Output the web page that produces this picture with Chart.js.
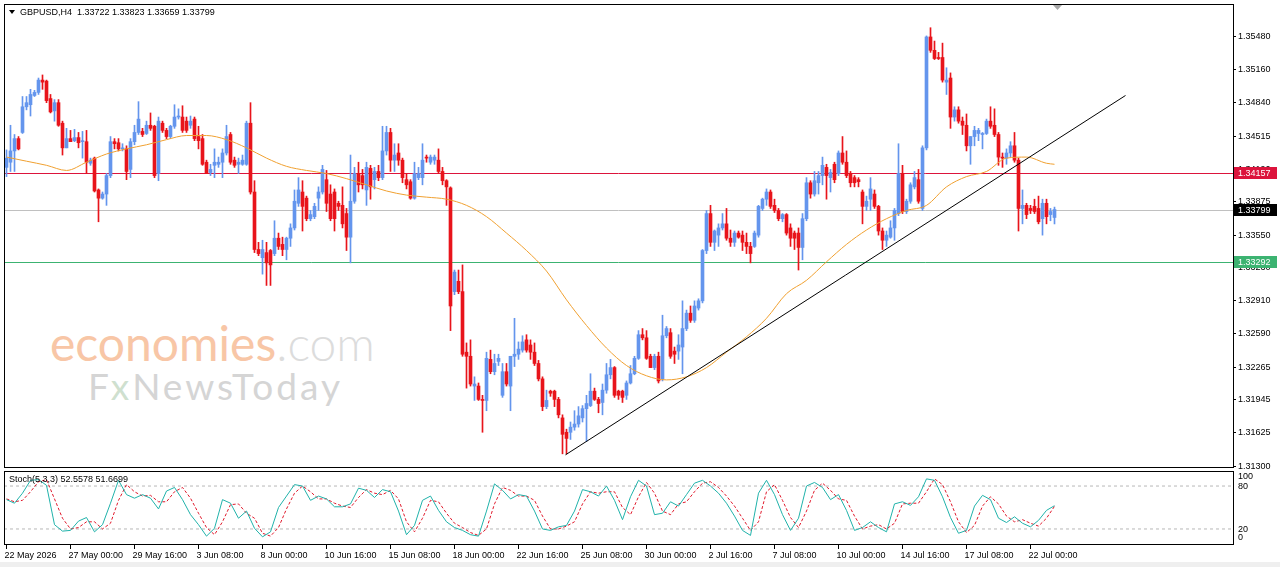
<!DOCTYPE html>
<html>
<head>
<meta charset="utf-8">
<title>GBPUSD,H4</title>
<script src="https://cdn.jsdelivr.net/npm/chart.js@4.4.1/dist/chart.umd.min.js"></script>
<style>
  html, body { margin: 0; padding: 0; background: #fff; }
  #box { position: relative; width: 1280px; height: 567px; overflow: hidden; background: #fff;
         font-family: "Liberation Sans", Arial, sans-serif; }
  canvas { position: absolute; left: 0; z-index: 2; }
  #main { top: 0; }
  #stoch { top: 470px; }
  .wm { position: absolute; z-index: 1; font-family: Lato, "Open Sans", sans-serif; line-height: 1; white-space: nowrap; }
  #wm1 { left: 50px; top: 319px; font-size: 48px; color: #f8c6a6; }
  #wm1 span { color: #dcdcdc; font-weight: 300; }
  #wm2 { left: 88px; top: 367px; font-size: 37px; color: #d5d5d5; letter-spacing: 3px; }
  #wm2 span { color: #cfe0cf; }
  .lbl { position: absolute; z-index: 3; font-size: 9px; color: #000; white-space: nowrap; }
  #hdr { left: 20px; top: 7px; }
  #tri { position: absolute; z-index: 3; left: 9px; top: 10px; width: 0; height: 0;
         border-left: 3px solid transparent; border-right: 3px solid transparent; border-top: 4px solid #000; }
  #stl { left: 9px; top: 474px; }
  #foot { position: absolute; left: 0; top: 562px; width: 1280px; height: 5px; background: #efefef; }
</style>
</head>
<body>
<div id="box">
  <div class="wm" id="wm1">economies<span>.com</span></div>
  <div class="wm" id="wm2">F<span>x</span>NewsToday</div>
  <canvas id="main" width="1280" height="470"></canvas>
  <canvas id="stoch" width="1280" height="97"></canvas>
  <div id="tri"></div>
  <div class="lbl" id="hdr">GBPUSD,H4&nbsp; 1.33722 1.33823 1.33659 1.33799</div>
  <div class="lbl" id="stl">Stoch(5,3,3) 52.5578 51.6699</div>
  <div id="foot"></div>
</div>
<script>
// GBPUSD H4 candles, 22 May - 22 Jul
const open = [
  1.3421, 1.3426, 1.3437, 1.3449, 1.3455, 1.3480, 1.3482, 1.3491, 1.3494, 1.3506,
  1.3505, 1.3488, 1.3476, 1.3484, 1.3464, 1.3440, 1.3449, 1.3447, 1.3450, 1.3446,
  1.3446, 1.3425, 1.3430, 1.3399, 1.3391, 1.3395, 1.3413, 1.3446, 1.3445, 1.3439,
  1.3439, 1.3419, 1.3446, 1.3455, 1.3456, 1.3454, 1.3462, 1.3461, 1.3415, 1.3464,
  1.3457, 1.3451, 1.3461, 1.3470, 1.3470, 1.3466, 1.3462, 1.3468, 1.3451, 1.3449,
  1.3426, 1.3416, 1.3423, 1.3424, 1.3426, 1.3435, 1.3453, 1.3428, 1.3424, 1.3424,
  1.3424, 1.3464, 1.3397, 1.3341, 1.3333, 1.3338, 1.3340, 1.3337, 1.3352, 1.3346,
  1.3341, 1.3352, 1.3362, 1.3386, 1.3397, 1.3391, 1.3371, 1.3373, 1.3391, 1.3397,
  1.3409, 1.3395, 1.3397, 1.3386, 1.3384, 1.3376, 1.3353, 1.3388, 1.3415, 1.3413,
  1.3399, 1.3420, 1.3409, 1.3417, 1.3411, 1.3437, 1.3455, 1.3428, 1.3435, 1.3428,
  1.3409, 1.3407, 1.3391, 1.3411, 1.3411, 1.3431, 1.3426, 1.3428, 1.3428, 1.3417,
  1.3408, 1.3401, 1.3300, 1.3310, 1.3300, 1.3241, 1.3237, 1.3208, 1.3208, 1.3195,
  1.3194, 1.3234, 1.3222, 1.3232, 1.3199, 1.3222, 1.3208, 1.3237, 1.3239, 1.3243,
  1.3253, 1.3248, 1.3241, 1.3230, 1.3215, 1.3188, 1.3203, 1.3203, 1.3195, 1.3177,
  1.3163, 1.3163, 1.3168, 1.3171, 1.3177, 1.3186, 1.3189, 1.3203, 1.3195, 1.3192,
  1.3204, 1.3219, 1.3226, 1.3203, 1.3203, 1.3199, 1.3211, 1.3220, 1.3235, 1.3258,
  1.3255, 1.3237, 1.3226, 1.3237, 1.3215, 1.3257, 1.3260, 1.3242, 1.3242, 1.3246,
  1.3264, 1.3279, 1.3272, 1.3284, 1.3291, 1.3340, 1.3376, 1.3348, 1.3355, 1.3362,
  1.3366, 1.3352, 1.3348, 1.3357, 1.3355, 1.3348, 1.3344, 1.3344, 1.3355, 1.3381,
  1.3390, 1.3397, 1.3384, 1.3379, 1.3371, 1.3375, 1.3362, 1.3357, 1.3357, 1.3343,
  1.3371, 1.3406, 1.3395, 1.3406, 1.3413, 1.3421, 1.3411, 1.3424, 1.3415, 1.3435,
  1.3426, 1.3415, 1.3411, 1.3409, 1.3397, 1.3383, 1.3390, 1.3395, 1.3383, 1.3359,
  1.3350, 1.3353, 1.3362, 1.3376, 1.3415, 1.3378, 1.3388, 1.3402, 1.3409, 1.3381,
  1.3440, 1.3548, 1.3535, 1.3528, 1.3528, 1.3504, 1.3508, 1.3470, 1.3477, 1.3466,
  1.3462, 1.3442, 1.3451, 1.3454, 1.3453, 1.3454, 1.3466, 1.3462, 1.3453, 1.3431,
  1.3430, 1.3435, 1.3442, 1.3428, 1.3381, 1.3384, 1.3381, 1.3383, 1.3381, 1.3371,
  1.3386, 1.3375, 1.33722
];
const high = [
  1.3438, 1.3462, 1.3453, 1.3451, 1.3490, 1.3490, 1.3497, 1.3496, 1.3508, 1.3511,
  1.3506, 1.3492, 1.3487, 1.3487, 1.3466, 1.3459, 1.3457, 1.3458, 1.3455, 1.3456,
  1.3457, 1.3430, 1.3431, 1.3400, 1.3397, 1.3415, 1.3451, 1.3449, 1.3449, 1.3444,
  1.3442, 1.3449, 1.3462, 1.3485, 1.3459, 1.3466, 1.3474, 1.3462, 1.3470, 1.3466,
  1.3459, 1.3462, 1.3482, 1.3478, 1.3481, 1.3470, 1.3471, 1.3470, 1.3461, 1.3453,
  1.3428, 1.3424, 1.3439, 1.3431, 1.3439, 1.3462, 1.3455, 1.3431, 1.3430, 1.3433,
  1.3466, 1.3484, 1.3408, 1.3348, 1.3350, 1.3348, 1.3341, 1.3369, 1.3357, 1.3353,
  1.3353, 1.3366, 1.3399, 1.3411, 1.3408, 1.3393, 1.3379, 1.3386, 1.3402, 1.3423,
  1.3418, 1.3404, 1.3400, 1.3388, 1.3402, 1.3381, 1.3433, 1.3421, 1.3426, 1.3419,
  1.3426, 1.3423, 1.3421, 1.3423, 1.3461, 1.3461, 1.3459, 1.3444, 1.3444, 1.3430,
  1.3415, 1.3409, 1.3426, 1.3421, 1.3444, 1.3433, 1.3433, 1.3433, 1.3439, 1.3421,
  1.3409, 1.3402, 1.3321, 1.3321, 1.3326, 1.3250, 1.3253, 1.3217, 1.3211, 1.3199,
  1.3241, 1.3243, 1.3239, 1.3239, 1.3230, 1.3230, 1.3237, 1.3274, 1.3251, 1.3257,
  1.3258, 1.3253, 1.3250, 1.3233, 1.3217, 1.3204, 1.3204, 1.3204, 1.3197, 1.3180,
  1.3166, 1.3173, 1.3184, 1.3188, 1.3189, 1.3199, 1.3220, 1.3206, 1.3197, 1.3210,
  1.3230, 1.3234, 1.3227, 1.3204, 1.3204, 1.3213, 1.3228, 1.3237, 1.3262, 1.3264,
  1.3262, 1.3239, 1.3239, 1.3241, 1.3277, 1.3266, 1.3264, 1.3246, 1.3258, 1.3291,
  1.3282, 1.3286, 1.3291, 1.3293, 1.3341, 1.3379, 1.3384, 1.3360, 1.3366, 1.3376,
  1.3381, 1.3360, 1.3359, 1.3359, 1.3359, 1.3357, 1.3348, 1.3359, 1.3384, 1.3391,
  1.3400, 1.3399, 1.3390, 1.3381, 1.3376, 1.3376, 1.3366, 1.3359, 1.3362, 1.3376,
  1.3411, 1.3408, 1.3417, 1.3417, 1.3431, 1.3424, 1.3419, 1.3426, 1.3437, 1.3451,
  1.3437, 1.3417, 1.3413, 1.3411, 1.3399, 1.3393, 1.3411, 1.3399, 1.3384, 1.3362,
  1.3359, 1.3369, 1.3381, 1.3444, 1.3423, 1.3390, 1.3406, 1.3417, 1.3419, 1.3442,
  1.3549, 1.3557, 1.3544, 1.3533, 1.3542, 1.3518, 1.3513, 1.3480, 1.3480, 1.3470,
  1.3473, 1.3451, 1.3461, 1.3459, 1.3455, 1.3468, 1.3480, 1.3478, 1.3455, 1.3435,
  1.3439, 1.3446, 1.3455, 1.3430, 1.3399, 1.3386, 1.3384, 1.3390, 1.3393, 1.3390,
  1.3390, 1.3381, 1.33823
];
const low = [
  1.3412, 1.3417, 1.3417, 1.3438, 1.3454, 1.3477, 1.3471, 1.3490, 1.3492, 1.3497,
  1.3484, 1.3474, 1.3466, 1.3461, 1.3433, 1.3440, 1.3446, 1.3446, 1.3440, 1.3430,
  1.3415, 1.3423, 1.3397, 1.3368, 1.3390, 1.3384, 1.3411, 1.3439, 1.3437, 1.3437,
  1.3409, 1.3411, 1.3443, 1.3453, 1.3451, 1.3453, 1.3457, 1.3411, 1.3408, 1.3455,
  1.3449, 1.3449, 1.3459, 1.3468, 1.3455, 1.3455, 1.3459, 1.3447, 1.3439, 1.3423,
  1.3415, 1.3413, 1.3411, 1.3421, 1.3411, 1.3433, 1.3424, 1.3421, 1.3415, 1.3423,
  1.3423, 1.3395, 1.3338, 1.3335, 1.3317, 1.3306, 1.3306, 1.3335, 1.3341, 1.3335,
  1.3331, 1.3344, 1.3360, 1.3383, 1.3359, 1.3369, 1.3369, 1.3371, 1.3379, 1.3395,
  1.3378, 1.3369, 1.3359, 1.3379, 1.3362, 1.3340, 1.3328, 1.3386, 1.3397, 1.3400,
  1.3384, 1.3390, 1.3400, 1.3408, 1.3409, 1.3433, 1.3417, 1.3417, 1.3423, 1.3406,
  1.3400, 1.3390, 1.3390, 1.3409, 1.3404, 1.3426, 1.3424, 1.3424, 1.3415, 1.3404,
  1.3384, 1.3262, 1.3297, 1.3298, 1.3237, 1.3206, 1.3208, 1.3194, 1.3194, 1.3163,
  1.3184, 1.3220, 1.3219, 1.3228, 1.3197, 1.3208, 1.3184, 1.3227, 1.3234, 1.3241,
  1.3241, 1.3234, 1.3228, 1.3213, 1.3184, 1.3186, 1.3198, 1.3188, 1.3177, 1.3142,
  1.3142, 1.3156, 1.3165, 1.3168, 1.3173, 1.3154, 1.3188, 1.3194, 1.3182, 1.3180,
  1.3201, 1.3215, 1.3197, 1.3195, 1.3192, 1.3195, 1.3210, 1.3219, 1.3234, 1.3253,
  1.3234, 1.3226, 1.3224, 1.3211, 1.3213, 1.3255, 1.3235, 1.3230, 1.3234, 1.3220,
  1.3262, 1.3270, 1.3270, 1.3282, 1.3289, 1.3337, 1.3344, 1.3340, 1.3344, 1.3360,
  1.3350, 1.3344, 1.3344, 1.3352, 1.3340, 1.3337, 1.3328, 1.3343, 1.3353, 1.3379,
  1.3384, 1.3381, 1.3377, 1.3369, 1.3368, 1.3355, 1.3344, 1.3341, 1.3321, 1.3331,
  1.3369, 1.3391, 1.3393, 1.3395, 1.3404, 1.3390, 1.3397, 1.3406, 1.3413, 1.3424,
  1.3411, 1.3402, 1.3402, 1.3402, 1.3366, 1.3379, 1.3379, 1.3381, 1.3355, 1.3341,
  1.3344, 1.3352, 1.3350, 1.3374, 1.3376, 1.3376, 1.3386, 1.3400, 1.3386, 1.3379,
  1.3438, 1.3533, 1.3526, 1.3526, 1.3504, 1.3492, 1.3459, 1.3466, 1.3464, 1.3453,
  1.3437, 1.3424, 1.3442, 1.3447, 1.3439, 1.3453, 1.3459, 1.3451, 1.3423, 1.3421,
  1.3424, 1.3431, 1.3426, 1.3359, 1.3366, 1.3371, 1.3376, 1.3376, 1.3366, 1.3355,
  1.3366, 1.3369, 1.33659
];
const close = [
  1.3430, 1.3437, 1.3449, 1.3439, 1.3480, 1.3484, 1.3492, 1.3494, 1.3506, 1.3504,
  1.3486, 1.3475, 1.3484, 1.3462, 1.3440, 1.3449, 1.3446, 1.3450, 1.3445, 1.3447,
  1.3426, 1.3428, 1.3398, 1.3391, 1.3395, 1.3413, 1.3446, 1.3444, 1.3439, 1.3440,
  1.3417, 1.3446, 1.3455, 1.3468, 1.3453, 1.3462, 1.3459, 1.3413, 1.3466, 1.3457,
  1.3451, 1.3461, 1.3470, 1.3471, 1.3457, 1.3457, 1.3466, 1.3449, 1.3447, 1.3424,
  1.3415, 1.3419, 1.3426, 1.3426, 1.3435, 1.3451, 1.3426, 1.3423, 1.3426, 1.3428,
  1.3464, 1.3397, 1.3341, 1.3337, 1.3341, 1.3328, 1.3326, 1.3352, 1.3344, 1.3341,
  1.3352, 1.3362, 1.3388, 1.3399, 1.3383, 1.3371, 1.3375, 1.3383, 1.3397, 1.3419,
  1.3386, 1.3371, 1.3371, 1.3383, 1.3366, 1.3353, 1.3388, 1.3415, 1.3404, 1.3404,
  1.3421, 1.3402, 1.3417, 1.3411, 1.3437, 1.3455, 1.3428, 1.3433, 1.3428, 1.3411,
  1.3404, 1.3391, 1.3415, 1.3415, 1.3428, 1.3430, 1.3431, 1.3431, 1.3417, 1.3408,
  1.3402, 1.3286, 1.3319, 1.3300, 1.3239, 1.3237, 1.3210, 1.3210, 1.3195, 1.3194,
  1.3235, 1.3222, 1.3230, 1.3235, 1.3222, 1.3210, 1.3237, 1.3239, 1.3244, 1.3251,
  1.3243, 1.3241, 1.3230, 1.3215, 1.3188, 1.3194, 1.3201, 1.3195, 1.3180, 1.3161,
  1.3157, 1.3168, 1.3171, 1.3179, 1.3186, 1.3191, 1.3203, 1.3195, 1.3191, 1.3204,
  1.3219, 1.3226, 1.3199, 1.3199, 1.3197, 1.3211, 1.3220, 1.3235, 1.3258, 1.3255,
  1.3235, 1.3226, 1.3237, 1.3213, 1.3257, 1.3264, 1.3237, 1.3239, 1.3248, 1.3264,
  1.3279, 1.3272, 1.3286, 1.3291, 1.3340, 1.3376, 1.3348, 1.3359, 1.3362, 1.3366,
  1.3352, 1.3348, 1.3357, 1.3353, 1.3348, 1.3344, 1.3337, 1.3357, 1.3383, 1.3390,
  1.3397, 1.3383, 1.3379, 1.3371, 1.3375, 1.3357, 1.3352, 1.3352, 1.3343, 1.3371,
  1.3406, 1.3395, 1.3408, 1.3413, 1.3423, 1.3413, 1.3416, 1.3409, 1.3435, 1.3426,
  1.3413, 1.3406, 1.3406, 1.3407, 1.3383, 1.3388, 1.3400, 1.3383, 1.3359, 1.3350,
  1.3355, 1.3362, 1.3379, 1.3415, 1.3378, 1.3388, 1.3404, 1.3411, 1.3388, 1.3440,
  1.3548, 1.3535, 1.3527, 1.3527, 1.3506, 1.3506, 1.3470, 1.3477, 1.3466, 1.3462,
  1.3442, 1.3451, 1.3457, 1.3457, 1.3454, 1.3466, 1.3461, 1.3453, 1.3431, 1.3430,
  1.3435, 1.3442, 1.3428, 1.3381, 1.3384, 1.3375, 1.3379, 1.3378, 1.3368, 1.3386,
  1.3373, 1.3378, 1.33799
];

// moving average (bar index -> value)
const maIdx = [0, 5, 10, 15, 20, 25, 30, 35, 40, 45, 50, 55, 60, 65, 70, 75, 80, 85, 90, 95,
  100, 105, 110, 115, 120, 125, 130, 135, 140, 145, 150, 155, 160, 165, 170, 175, 180, 185, 190, 195,
  200, 205, 210, 215, 220, 225, 230, 235, 240, 245, 250, 255, 260, 262];
const maVal = [1.3431, 1.3427, 1.3423, 1.3418, 1.3426, 1.3434, 1.3439, 1.3443, 1.3448, 1.3452,
  1.3452, 1.3448, 1.3440, 1.3430, 1.3422, 1.3418, 1.3415, 1.3410, 1.3404, 1.3398,
  1.3394, 1.3392, 1.3390, 1.3384, 1.3373, 1.3357, 1.3340, 1.3320, 1.3292, 1.3267,
  1.3245, 1.3228, 1.3218, 1.3214, 1.3217, 1.3226, 1.3241, 1.3256, 1.3274, 1.3298,
  1.3311, 1.3329, 1.3346, 1.3360, 1.3371, 1.3379, 1.3384, 1.3402, 1.3412, 1.3417,
  1.3430, 1.3431, 1.3425, 1.3424];

// trend line drawn on the chart
const trendIdx = [139.75, 279.75];
const trendVal = [1.3141, 1.3491];

// horizontal levels
const levels = [1.34157, 1.33799, 1.33292];
const levelColors = ['#dc143c', '#c0c0c0', '#3cb371'];
const levelBoxColors = ['#dc143c', '#000000', '#3cb371'];

// price axis tick labels
const priceTicks = [1.35480, 1.35160, 1.34840, 1.34515, 1.34190, 1.33875, 1.33550,
  1.33230, 1.32910, 1.32590, 1.32265, 1.31945, 1.31625, 1.31300];

// stochastic (5,3,3), one reading every STOCH_STEP bars
const STOCH_STEP = 2;
const stochK = [61, 56, 70, 88, 89, 81, 26, 17, 18, 31, 36, 16, 26, 56, 88, 68, 63, 68, 63, 48,
  73, 78, 61, 40, 26, 10, 21, 61, 56, 35, 45, 21, 9, 16, 50, 66, 82, 80, 60, 66,
  62, 51, 51, 55, 77, 74, 64, 75, 72, 45, 12, 25, 60, 66, 46, 30, 22, 18, 12, 10,
  45, 83, 74, 62, 68, 66, 45, 20, 18, 23, 25, 45, 75, 72, 66, 80, 60, 33, 65, 88,
  80, 40, 42, 58, 52, 68, 84, 88, 80, 70, 56, 38, 18, 11, 70, 88, 68, 40, 18, 35,
  80, 85, 78, 61, 68, 46, 18, 22, 30, 22, 16, 55, 58, 53, 65, 90, 88, 65, 36, 14,
  18, 52, 67, 61, 35, 29, 37, 28, 23, 32, 46, 52.5578];
const stochD = [62, 58, 60, 72, 86, 89, 62, 35, 20, 22, 30, 30, 20, 28, 60, 82, 72, 66, 67, 58,
  58, 72, 78, 63, 42, 22, 12, 30, 54, 55, 42, 35, 14, 10, 22, 48, 70, 80, 72, 62,
  62, 56, 52, 50, 64, 75, 70, 68, 74, 62, 30, 16, 35, 60, 58, 42, 28, 22, 15, 11,
  20, 55, 78, 74, 66, 66, 60, 38, 20, 20, 24, 30, 55, 72, 70, 72, 72, 50, 40, 65,
  85, 70, 45, 40, 55, 58, 72, 84, 86, 78, 66, 52, 35, 18, 30, 72, 82, 60, 36, 22,
  45, 74, 84, 74, 62, 60, 38, 20, 24, 26, 20, 28, 55, 56, 56, 72, 90, 82, 58, 30,
  15, 25, 52, 65, 55, 38, 30, 33, 28, 24, 35, 51.6699];

// time axis: one label every 16 bars
const LABEL_EVERY = 16;
const dateLabels = ['22 May 2026', '27 May 00:00', '29 May 16:00', '3 Jun 08:00', '8 Jun 00:00',
  '10 Jun 16:00', '15 Jun 08:00', '18 Jun 00:00', '22 Jun 16:00', '25 Jun 08:00', '30 Jun 00:00',
  '2 Jul 16:00', '7 Jul 08:00', '10 Jul 00:00', '14 Jul 16:00', '17 Jul 08:00', '22 Jul 00:00'];

const FONT = '"Liberation Sans", Arial, sans-serif';
const BULL = '#6495ed';
const BEAR = '#e8141b';
const X_MIN = -0.625, X_MAX = 306.625;
const Y_MIN = 1.31282, Y_MAX = 1.35801;
const AXIS_W = 47;

const candleColors = open.map((o, i) => close[i] > o ? BULL : BEAR);
const wickData = open.map((o, i) => ({ x: i, y: [low[i], high[i]] }));
const bodyData = open.map((o, i) => ({ x: i, y: [o, close[i]] }));

function flatLine(v) {
  return [{ x: X_MIN, y: v }, { x: X_MAX, y: v }];
}

// level lines under the candles, snapped to whole pixels
const levelLines = {
  id: 'levelLines',
  beforeDatasetsDraw(chart) {
    const { ctx, chartArea: a, scales } = chart;
    ctx.save();
    ctx.lineWidth = 1;
    levels.forEach((v, k) => {
      const py = Math.round(scales.y.getPixelForValue(v)) + 0.5;
      ctx.strokeStyle = levelColors[k];
      ctx.beginPath();
      ctx.moveTo(a.left, py);
      ctx.lineTo(a.right, py);
      ctx.stroke();
    });
    ctx.restore();
  }
};

const mainFrame = {
  id: 'mainFrame',
  afterDraw(chart) {
    const { ctx, chartArea: a, scales } = chart;
    const y = scales.y;
    ctx.save();
    ctx.strokeStyle = '#000';
    ctx.lineWidth = 1;
    ctx.strokeRect(a.left + 0.5, a.top + 0.5, a.right - a.left, a.bottom - a.top - 1);

    // price boxes on the axis
    ctx.font = '9px ' + FONT;
    ctx.textBaseline = 'middle';
    levels.forEach((v, k) => {
      const py = Math.round(y.getPixelForValue(v));
      ctx.fillStyle = levelBoxColors[k];
      ctx.fillRect(a.right + 1, py - 6, 43, 12);
      ctx.fillStyle = '#fff';
      ctx.fillText(v.toFixed(5), a.right + 5, py + 0.5);
    });

    // chart shift marker
    ctx.fillStyle = '#a8a8a8';
    ctx.beginPath();
    ctx.moveTo(1053, a.top + 1);
    ctx.lineTo(1062, a.top + 1);
    ctx.lineTo(1057.5, a.top + 6);
    ctx.closePath();
    ctx.fill();
    ctx.restore();
  }
};

new Chart(document.getElementById('main'), {
  type: 'bar',
  data: {
    datasets: [
      {
        data: wickData, backgroundColor: candleColors, borderWidth: 0,
        barThickness: 1, grouped: false, order: 6
      },
      {
        data: bodyData, backgroundColor: candleColors, borderWidth: 0,
        barThickness: 3, minBarLength: 1, grouped: false, order: 5
      },
      {
        type: 'line', data: maIdx.map((x, k) => ({ x, y: maVal[k] })),
        borderColor: '#f0a030', borderWidth: 1, pointRadius: 0,
        cubicInterpolationMode: 'monotone', order: 2
      },
      {
        type: 'line', data: trendIdx.map((x, k) => ({ x, y: trendVal[k] })),
        borderColor: '#000', borderWidth: 1, pointRadius: 0, order: 1
      }
    ]
  },
  options: {
    responsive: false,
    animation: false,
    layout: { padding: { left: 4, top: 4, right: 0, bottom: 2 } },
    plugins: { legend: { display: false }, tooltip: { enabled: false } },
    scales: {
      x: { type: 'linear', min: X_MIN, max: X_MAX, offset: false, display: false },
      y: {
        position: 'right', min: Y_MIN, max: Y_MAX,
        afterBuildTicks: s => { s.ticks = priceTicks.map(v => ({ value: v })); },
        afterFit: s => { s.width = AXIS_W; s.paddingTop = 0; s.paddingBottom = 0; },
        ticks: {
          autoSkip: false, padding: 2, color: '#000',
          font: { family: FONT, size: 9 },
          callback: v => v.toFixed(5)
        },
        grid: { drawOnChartArea: false, tickLength: 3, color: '#000' },
        border: { display: false }
      }
    }
  },
  plugins: [levelLines, mainFrame]
});

const stochFrame = {
  id: 'stochFrame',
  afterDraw(chart) {
    const { ctx, chartArea: a, scales } = chart;
    const y = scales.y;
    ctx.save();
    ctx.strokeStyle = '#000';
    ctx.lineWidth = 1;
    ctx.strokeRect(a.left + 0.5, a.top + 0.5, a.right - a.left, a.bottom - a.top - 1);
    ctx.fillStyle = '#000';
    ctx.font = '9px ' + FONT;
    ctx.textBaseline = 'middle';
    ctx.fillText('100', a.right + 5, y.getPixelForValue(100) + 4.5);
    ctx.fillText('80', a.right + 5, y.getPixelForValue(80) + 0.5);
    ctx.fillText('20', a.right + 5, y.getPixelForValue(20) + 0.5);
    ctx.fillText('0', a.right + 5, y.getPixelForValue(0) - 6);
    ctx.restore();
  }
};

new Chart(document.getElementById('stoch'), {
  type: 'line',
  data: {
    datasets: [
      {
        data: stochK.map((v, j) => ({ x: j * STOCH_STEP, y: v })),
        borderColor: '#20b2aa', borderWidth: 1, pointRadius: 0, order: 1
      },
      {
        data: stochD.map((v, j) => ({ x: j * STOCH_STEP, y: v })),
        borderColor: '#e0192b', borderWidth: 1, borderDash: [3, 2], pointRadius: 0, order: 2
      },
      {
        data: flatLine(80), borderColor: '#b8b8b8', borderWidth: 1, borderDash: [3, 3],
        pointRadius: 0, order: 3
      },
      {
        data: flatLine(20), borderColor: '#b8b8b8', borderWidth: 1, borderDash: [3, 3],
        pointRadius: 0, order: 3
      }
    ]
  },
  options: {
    responsive: false,
    animation: false,
    layout: { padding: { left: 4, top: 1, right: AXIS_W, bottom: 0 } },
    plugins: { legend: { display: false }, tooltip: { enabled: false } },
    scales: {
      x: {
        type: 'linear', min: X_MIN, max: X_MAX, offset: false,
        afterBuildTicks: s => { s.ticks = dateLabels.map((_, k) => ({ value: k * LABEL_EVERY })); },
        afterFit: s => { s.height = 22; s.paddingLeft = 0; s.paddingRight = 0; },
        ticks: {
          autoSkip: false, maxRotation: 0, align: 'start', labelOffset: -2, padding: 1,
          color: '#000', font: { family: FONT, size: 9 },
          callback: (v, k) => dateLabels[k]
        },
        grid: { drawOnChartArea: false, tickLength: 4, color: '#000' },
        border: { display: false }
      },
      y: { display: false, min: -2.4, max: 101 }
    }
  },
  plugins: [stochFrame]
});
</script>
</body>
</html>
